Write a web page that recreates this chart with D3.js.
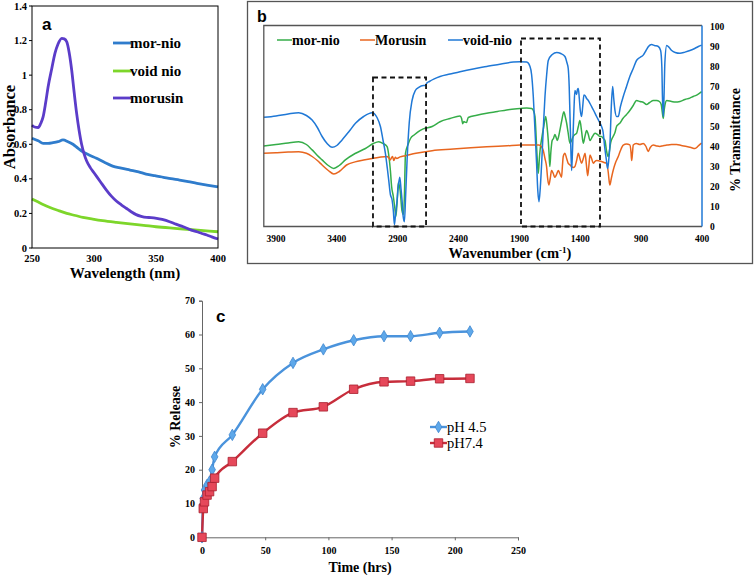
<!DOCTYPE html>
<html><head><meta charset="utf-8">
<script src="https://cdn.jsdelivr.net/npm/d3@7/dist/d3.min.js"></script>
<style>
body{margin:0;background:#fff;}
svg{display:block;}
</style>
</head><body>
<svg id="chart" width="756" height="575"></svg>
<script>
// ---------- Panel a: UV-Vis absorbance ----------
const aTicksX = [250, 300, 350, 400];
const aTicksY = [0, 0.2, 0.4, 0.6, 0.8, 1, 1.2, 1.4];
const aMorNio = [[250,0.635],[255,0.62],[259,0.605],[263,0.605],[267,0.609],[271,0.615],[275,0.625],[279,0.615],[283,0.600],[287,0.578],[291,0.557],[296,0.538],[302,0.519],[308,0.497],[315,0.474],[322,0.462],[329,0.451],[336,0.440],[342,0.428],[349,0.418],[356,0.409],[362,0.401],[369,0.393],[376,0.384],[383,0.374],[391,0.364],[400,0.353]];
const aVoidNio = [[250,0.283],[258,0.255],[265,0.233],[272,0.215],[278,0.200],[285,0.188],[291,0.177],[299,0.167],[307,0.158],[318,0.148],[329,0.139],[340,0.131],[350,0.123],[361,0.116],[372,0.110],[386,0.102],[400,0.094]];
const aMorusin = [[250,0.71],[252,0.70],[255,0.697],[257,0.72],[259,0.76],[261,0.84],[263,0.933],[266,1.04],[268.5,1.126],[271,1.18],[274,1.213],[276,1.21],[278,1.193],[280,1.13],[282,1.03],[284,0.90],[286,0.779],[288,0.68],[290,0.60],[292,0.545],[294,0.505],[297,0.465],[300,0.435],[305,0.385],[310,0.335],[314,0.30],[318,0.272],[322,0.25],[326,0.23],[330,0.21],[334,0.193],[338,0.183],[342.5,0.177],[346,0.176],[350.5,0.172],[355,0.165],[361,0.152],[366,0.138],[372,0.123],[377,0.108],[383,0.094],[387,0.084],[391,0.075],[395,0.064],[400,0.052]];

// ---------- Panel b: FTIR ----------
const bTicksX = [3900, 3400, 2900, 2400, 1900, 1400, 900, 400];
const bTicksY = [0, 10, 20, 30, 40, 50, 60, 70, 80, 90, 100];
const bVoidNio = [[4000,54.6],[3900,55.3],[3800,56.3],[3713,56.9],[3650,55.5],[3603,53.2],[3560,49.5],[3521,45],[3480,41.5],[3439,39.6],[3400,40.5],[3357,43.3],[3300,47.5],[3247,51.6],[3180,55],[3110,56.9],[3070,54.5],[3042,50],[3020,43],[3001,36.6],[2985,29],[2974,23.3],[2960,16],[2946,13.25],[2936,8],[2927,1],[2918,6],[2905,13],[2895,20],[2883,24.6],[2873,19],[2864,13],[2855,5],[2845,2.4],[2835,15],[2823,33],[2805,52],[2782,63],[2755,68],[2727,69.6],[2690,70.5],[2672,70.5],[2662,71.6],[2640,72.5],[2600,73.8],[2552,75],[2470,76.2],[2388,77.4],[2280,78.8],[2169,80],[2050,81.3],[1950,82.2],[1895,82.4],[1840,82.2],[1813,80],[1800,76],[1786,65],[1772,48],[1759,31.6],[1749,18],[1739,12.4],[1728,20],[1717,32],[1703,50],[1690,65],[1676,76],[1663,83],[1630,86],[1594,87],[1560,86.5],[1526,85],[1510,82],[1499,79],[1491,70],[1485,56.6],[1477,38],[1471,28],[1465,36],[1458,48],[1451,60],[1444,68],[1437,67],[1430,66],[1423,68.5],[1416,69],[1408,64],[1400,58],[1389,55],[1380,60],[1370,65.7],[1361,65.5],[1348,64],[1334,63],[1320,61.5],[1307,60],[1290,58],[1266,55],[1245,52.5],[1225,50],[1212,47],[1200,40],[1185,33],[1175,29],[1165,34],[1157,40],[1145,60],[1134,70],[1125,64],[1115,58],[1102,55],[1088,55],[1070,60],[1047,65],[1020,70],[993,75],[965,79],[938,83],[910,84.5],[883,85.7],[860,88],[840,90],[814,91],[790,90.5],[759,90],[740,88],[730,80],[725,65],[718,55],[712,65],[705,82],[690,90.5],[670,89.5],[649,88],[620,87],[581,86.6],[540,87.2],[499,88],[460,89],[430,90],[403,90.7]];
const bMorNio = [[4000,40.3],[3900,41],[3800,41.8],[3713,42.4],[3650,41],[3603,38.3],[3560,35.5],[3521,33.3],[3470,30.5],[3425,29],[3380,30.5],[3330,33.3],[3250,36.5],[3165,39],[3100,41.5],[3055,42.4],[3020,41.5],[2987,39.9],[2970,34],[2960,28],[2950,20],[2936,15],[2925,10],[2915,5],[2905,12],[2895,22],[2880,18],[2865,8],[2852,6],[2845,15],[2836,36.6],[2815,41],[2795,44],[2760,46],[2727,47.6],[2690,48.8],[2617,50],[2552,52.4],[2470,54],[2388,55.25],[2375,54],[2366,51.4],[2356,52.5],[2347,52.2],[2335,52],[2320,54.5],[2250,55.6],[2169,56.6],[2080,57.5],[2005,58.3],[1895,59],[1840,59.3],[1800,59],[1785,58],[1772,55],[1765,48],[1759,40],[1752,32],[1745,26.6],[1735,35],[1727,40],[1717,44],[1700,50],[1684,55],[1673,50],[1663,43],[1656,36],[1650,30],[1642,37],[1631,43],[1620,44],[1609,46],[1598,44.5],[1588,43],[1578,45],[1568,48],[1552,53],[1535,57.4],[1524,55],[1513,52],[1500,47],[1485,41.6],[1471,43],[1458,45],[1444,46],[1430,46.6],[1416,50],[1403,53],[1390,48],[1375,41.6],[1362,45],[1348,48],[1334,46],[1320,43],[1300,45],[1279,46.6],[1258,46],[1238,45],[1226,45],[1210,44],[1197,43],[1185,38],[1171,35],[1160,38],[1150,42],[1130,45],[1115,47],[1102,50],[1088,51],[1075,51.6],[1050,54],[1020,56],[993,58],[965,60.5],[938,63],[910,62.5],[880,62],[856,61],[830,62],[800,63],[773,63],[750,62.5],[735,61],[726,57],[718,54],[711,58],[700,62],[690,63],[650,62.5],[620,62.2],[581,62.5],[540,63.5],[500,64.2],[472,65],[440,65.8],[403,67.4]];
const bMorusin = [[4000,36.6],[3900,36.9],[3800,37.2],[3713,37.4],[3650,36.6],[3603,35],[3560,33],[3521,30.75],[3470,28],[3425,26.25],[3380,27.5],[3320,30.75],[3250,32.3],[3180,33.2],[3110,34],[3050,34.6],[2987,35],[2975,34.5],[2960,33.3],[2950,34.5],[2942,35],[2932,33],[2919,34.6],[2908,34],[2880,34.8],[2836,35.4],[2750,36.6],[2617,37.9],[2443,38.7],[2300,39.4],[2169,39.9],[2000,40.4],[1895,40.75],[1800,40.8],[1740,40.8],[1720,40],[1704,38],[1690,34],[1677,30],[1668,24],[1658,20.7],[1647,24],[1636,28],[1622,26.5],[1609,24.6],[1595,26],[1581,28],[1568,26.5],[1554,24.6],[1547,30],[1540,35],[1526,36.6],[1512,34],[1499,31.6],[1485,30.8],[1471,30],[1458,29.5],[1444,30],[1430,33],[1416,36.6],[1403,34],[1389,31.6],[1375,34],[1361,36.6],[1350,31],[1339,25.4],[1330,30],[1320,35.8],[1307,34],[1293,31.6],[1280,32.5],[1266,33],[1245,32.8],[1225,32.5],[1205,32],[1184,31.6],[1170,27],[1165,24],[1157,20.7],[1145,24],[1130,28],[1110,32],[1088,35],[1070,38],[1047,40.7],[1020,41.2],[993,40.8],[983,37],[978,33],[972,36],[965,40.7],[940,41.5],[910,41],[883,41.5],[860,40],[842,37.5],[825,39.5],[801,40.7],[775,40.3],[746,40],[720,40.4],[690,40.7],[650,41],[608,41],[570,40.5],[526,40],[490,39.5],[458,39],[430,40.3],[403,41.7]];
const bBox1 = {x0: 3103, x1: 2667, top: 74.5};
const bBox2 = {x0: 1887, x1: 1238, top: 94};

// ---------- Panel c: release ----------
const cTicksX = [0, 50, 100, 150, 200, 250];
const cTicksY = [0, 10, 20, 30, 40, 50, 60, 70];
const cTime45 = [0, 1, 2, 4, 6, 8, 10, 24, 48, 72, 96, 120, 144, 165, 188, 212];
const cRel45  = [0, 11.5, 14, 15.5, 16.5, 20, 23.8, 30.3, 43.8, 51.6, 55.6, 58.3, 59.5, 59.5, 60.5, 60.9];
const cTime74 = [0, 1, 2, 4, 6, 8, 10, 24, 48, 72, 96, 120, 144, 165, 188, 212];
const cRel74  = [0, 8.5, 10.5, 12.5, 13.5, 15, 17.5, 22.4, 30.8, 36.9, 38.6, 43.8, 46.0, 46.2, 46.9, 47.0];

const svg = d3.select("#chart");
const SERIF = '"Liberation Serif","Times New Roman",serif';
const SANS = '"Liberation Sans",Arial,sans-serif';

// ================= Panel a =================
(function(){
  const x = d3.scaleLinear().domain([250, 400]).range([32, 218]);
  const y = d3.scaleLinear().domain([0, 1.4]).range([248, 6]);
  const g = svg.append("g");
  const line = d3.line().x(d => x(d[0])).y(d => y(d[1])).curve(d3.curveMonotoneX);
  const series = [
    {data: aMorNio, color: "#2f7ccc", name: "mor-nio"},
    {data: aVoidNio, color: "#7dd62a", name: "void nio"},
    {data: aMorusin, color: "#5b3cc9", name: "morusin"}
  ];
  [series[1], series[0], series[2]].forEach(s => {
    g.append("path").attr("d", line(s.data)).attr("fill", "none")
      .attr("stroke", s.color).attr("stroke-width", 2.8);
  });
  g.append("rect").attr("x", 32).attr("y", 6).attr("width", 186).attr("height", 242)
    .attr("fill", "none").attr("stroke", "#000").attr("stroke-width", 1);
  aTicksY.forEach(v => {
    g.append("line").attr("x1", 29).attr("x2", 32).attr("y1", y(v)).attr("y2", y(v)).attr("stroke", "#000");
    g.append("text").attr("x", 27).attr("y", y(v) + 3.5).attr("text-anchor", "end")
      .attr("font-family", SERIF).attr("font-weight", "bold").attr("font-size", 10.5).text(v);
  });
  aTicksX.forEach(v => {
    g.append("text").attr("x", x(v)).attr("y", 262).attr("text-anchor", "middle")
      .attr("font-family", SERIF).attr("font-weight", "bold").attr("font-size", 10.5).text(v);
  });
  g.append("text").attr("x", 125).attr("y", 278).attr("text-anchor", "middle")
    .attr("font-family", SERIF).attr("font-weight", "bold").attr("font-size", 15).text("Wavelength (nm)");
  g.append("text").attr("transform", "translate(15,127) rotate(-90)").attr("text-anchor", "middle")
    .attr("font-family", SERIF).attr("font-weight", "bold").attr("font-size", 16.5).text("Absorbance");
  series.forEach((s, i) => {
    const ly = [43, 71, 98][i];
    g.append("line").attr("x1", 113).attr("x2", 131).attr("y1", ly).attr("y2", ly)
      .attr("stroke", s.color).attr("stroke-width", 2.8);
    g.append("text").attr("x", 130).attr("y", ly + 5).attr("font-family", SERIF)
      .attr("font-weight", "bold").attr("font-size", 15).text(s.name);
  });
  g.append("text").attr("x", 42).attr("y", 30).attr("font-family", SANS)
    .attr("font-weight", "bold").attr("font-size", 17).text("a");
})();

// ================= Panel b =================
(function(){
  const x = d3.scaleLinear().domain([4000, 400]).range([263.8, 702]);
  const y = d3.scaleLinear().domain([0, 100]).range([226.5, 26.5]);
  const g = svg.append("g");
  g.append("rect").attr("x", 247.5).attr("y", 1.5).attr("width", 505).attr("height", 262)
    .attr("fill", "none").attr("stroke", "#555").attr("stroke-width", 1.3);
  const line = d3.line().x(d => x(d[0])).y(d => y(d[1])).curve(d3.curveMonotoneX);
  const series = [
    {data: bMorNio, color: "#35ad48", name: "mor-nio"},
    {data: bMorusin, color: "#e8661f", name: "Morusin"},
    {data: bVoidNio, color: "#1f78d6", name: "void-nio"}
  ];
  series.forEach(s => {
    g.append("path").attr("d", line(s.data)).attr("fill", "none")
      .attr("stroke", s.color).attr("stroke-width", 1.5);
  });
  g.append("path").attr("d", `M702,25.5H263.8V226.5H702`).attr("fill", "none")
    .attr("stroke", "#555").attr("stroke-width", 1.3);
  g.append("line").attr("x1", 702).attr("x2", 702).attr("y1", 25.5).attr("y2", 226.5)
    .attr("stroke", "#1f78d6").attr("stroke-width", 1.5);
  [bBox1, bBox2].forEach(b => {
    g.append("rect").attr("x", x(b.x0)).attr("y", y(b.top))
      .attr("width", x(b.x1) - x(b.x0)).attr("height", y(0) - y(b.top))
      .attr("fill", "none").attr("stroke", "#111").attr("stroke-width", 1.8)
      .attr("stroke-dasharray", "5,3.5");
  });
  bTicksY.forEach(v => {
    g.append("text").attr("x", 710).attr("y", y(v) + 3).attr("font-family", SERIF)
      .attr("font-weight", "bold").attr("font-size", 9.5).text(v);
  });
  bTicksX.forEach(v => {
    g.append("text").attr("x", x(v)).attr("y", 241.5).attr("text-anchor", "middle")
      .attr("font-family", SERIF).attr("font-weight", "bold").attr("font-size", 9.5).text(v);
  });
  const t = g.append("text").attr("x", 510).attr("y", 258).attr("text-anchor", "middle")
    .attr("font-family", SERIF).attr("font-weight", "bold").attr("font-size", 14.5);
  t.append("tspan").text("Wavenumber (cm");
  t.append("tspan").attr("font-size", 9).attr("dy", -5).text("-1");
  t.append("tspan").attr("dy", 5).text(")");
  g.append("text").attr("transform", "translate(740,140) rotate(-90)").attr("text-anchor", "middle")
    .attr("font-family", SERIF).attr("font-weight", "bold").attr("font-size", 14).text("% Transmittance");
  const lx = [277, 360, 448];
  series.forEach((s, i) => {
    g.append("line").attr("x1", lx[i]).attr("x2", lx[i] + 15).attr("y1", 40).attr("y2", 40)
      .attr("stroke", s.color).attr("stroke-width", 1.5);
    g.append("text").attr("x", lx[i] + 15).attr("y", 45).attr("font-family", SERIF)
      .attr("font-weight", "bold").attr("font-size", 14).text(s.name);
  });
  g.append("text").attr("x", 257).attr("y", 22).attr("font-family", SANS)
    .attr("font-weight", "bold").attr("font-size", 16).text("b");
})();

// ================= Panel c =================
(function(){
  const x = d3.scaleLinear().domain([0, 250]).range([202, 518]);
  const y = d3.scaleLinear().domain([0, 70]).range([537.3, 300.7]);
  const g = svg.append("g");
  const xAxis = d3.axisBottom(x).tickValues(cTicksX).tickSize(3).tickFormat(d3.format("d"));
  const yAxis = d3.axisLeft(y).tickValues(cTicksY).tickSize(3).tickFormat(d3.format("d"));
  const gx = g.append("g").attr("transform", "translate(0,537.3)").call(xAxis);
  const gy = g.append("g").attr("transform", "translate(202,0)").call(yAxis);
  [gx, gy].forEach(ax => {
    ax.select(".domain").attr("stroke", "#666");
    ax.selectAll(".tick line").attr("stroke", "#666");
    ax.selectAll("text").attr("font-family", SERIF).attr("font-weight", "bold")
      .attr("font-size", 10).attr("fill", "#000");
  });
  gx.selectAll("text").attr("dy", "1.1em");
  gy.selectAll("text").attr("x", -7);
  const line = d3.line().x(d => x(d[0])).y(d => y(d[1])).curve(d3.curveMonotoneX);
  const d45 = cTime45.map((t, i) => [t, cRel45[i]]);
  const d74 = cTime74.map((t, i) => [t, cRel74[i]]);
  const blue = "#4a93dc", red = "#c72d3b";
  g.append("path").attr("d", line(d45)).attr("fill", "none").attr("stroke", blue).attr("stroke-width", 2.4);
  g.append("path").attr("d", line(d74)).attr("fill", "none").attr("stroke", red).attr("stroke-width", 2.4);
  const diamond = d3.symbol().type(d3.symbolDiamond).size(38);
  const square = d3.symbol().type(d3.symbolSquare).size(72);
  g.selectAll(".pb").data(d45).join("path").attr("d", diamond)
    .attr("transform", d => `translate(${x(d[0])},${y(d[1])})`)
    .attr("fill", "#5ea8ea").attr("stroke", "#3f86cf").attr("stroke-width", 0.8);
  g.selectAll(".pr").data(d74).join("path").attr("d", square)
    .attr("transform", d => `translate(${x(d[0])},${y(d[1])})`)
    .attr("fill", "#e6485a").attr("stroke", "#a8202e").attr("stroke-width", 0.8);
  g.append("text").attr("x", 360).attr("y", 572).attr("text-anchor", "middle")
    .attr("font-family", SERIF).attr("font-weight", "bold").attr("font-size", 14).text("Time (hrs)");
  g.append("text").attr("transform", "translate(180,417) rotate(-90)").attr("text-anchor", "middle")
    .attr("font-family", SERIF).attr("font-weight", "bold").attr("font-size", 14).text("% Release");
  g.append("line").attr("x1", 430).attr("x2", 447).attr("y1", 427).attr("y2", 427).attr("stroke", blue).attr("stroke-width", 2.4);
  g.append("path").attr("d", diamond).attr("transform", "translate(438.5,427)").attr("fill", "#5ea8ea").attr("stroke", "#3f86cf").attr("stroke-width", 0.8);
  g.append("line").attr("x1", 430).attr("x2", 447).attr("y1", 443).attr("y2", 443).attr("stroke", red).attr("stroke-width", 2.4);
  g.append("path").attr("d", square).attr("transform", "translate(438.5,443)").attr("fill", "#e6485a").attr("stroke", "#a8202e").attr("stroke-width", 0.8);
  g.append("text").attr("x", 447).attr("y", 432).attr("font-family", SERIF).attr("font-size", 14.5).text("pH 4.5");
  g.append("text").attr("x", 447).attr("y", 448).attr("font-family", SERIF).attr("font-size", 14.5).text("pH7.4");
  g.append("text").attr("x", 216).attr("y", 322).attr("font-family", SANS)
    .attr("font-weight", "bold").attr("font-size", 17).text("c");
})();
</script>
</body></html>
